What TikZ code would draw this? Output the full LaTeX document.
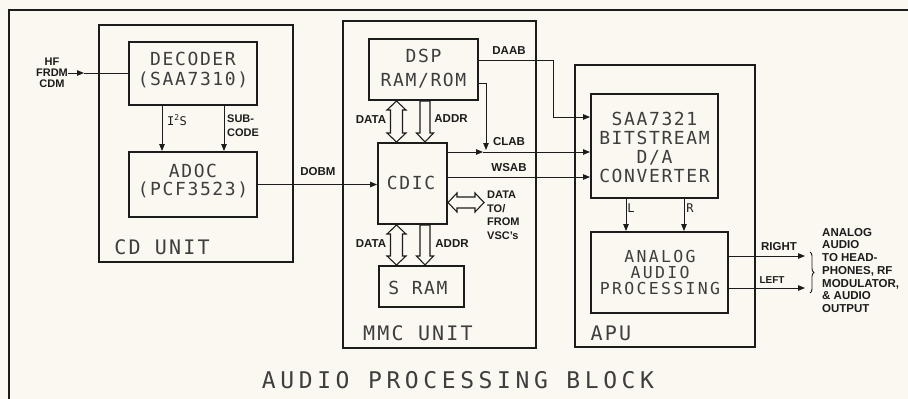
\documentclass[tikz,border=0pt]{standalone}
\usepackage{fontspec}
\setmainfont{Liberation Sans}
\newfontfamily\boxfont[LetterSpace=9]{DejaVu Sans Mono}
\newfontfamily\anafont[LetterSpace=14]{DejaVu Sans Mono}
\newfontfamily\unitfont[LetterSpace=11]{DejaVu Sans Mono}
\newfontfamily\capfont[LetterSpace=20]{DejaVu Sans Mono}
\usetikzlibrary{arrows.meta,calc,decorations.pathreplacing}
\definecolor{bg}{RGB}{250,248,240}
\definecolor{ink}{RGB}{28,28,28}
\definecolor{txt}{RGB}{62,62,62}
\begin{document}
\begin{tikzpicture}[x=1pt,y=-1pt,
  frame/.style={draw=ink, line width=2.2pt},
  unitbox/.style={draw=ink, line width=2.6pt, inner sep=0},
  blk/.style={draw=ink, line width=1.9pt, inner sep=0},
  bt/.style={align=center, inner sep=0, text=txt, font={\boxfont\fontsize{18}{#1}\selectfont}},
  ut/.style={inner sep=0, text=txt, font={\unitfont\fontsize{20}{20}\selectfont}},
  lbl/.style={inner sep=0, text=ink, font={\bfseries\fontsize{11.5}{12}\selectfont}},
  thin/.style={inner sep=0, text=ink, font={\boxfont\fontsize{12}{12}\selectfont}},
  sig/.style={draw=ink, line width=0.9pt},
  arr/.style={-{Triangle[length=7pt,width=5.5pt]}},
  hollow/.style={draw=ink, line width=1.1pt, fill=bg, line join=miter}
]
\fill[bg] (0,0) rectangle (908,399);
\useasboundingbox (0,0) rectangle (908,399);
\begin{scope}
  \clip (0,0) rectangle (908,399);
  \draw[frame] (915,10) -- (9,10) -- (9,410);
\end{scope}

% units
\node[unitbox, minimum width=194, minimum height=237] (cdu) at (196,143.5) {};
\node[unitbox, minimum width=193, minimum height=327] (mmc) at (439.5,184.5) {};
\node[unitbox, minimum width=180, minimum height=282] (apu) at (665,206) {};

% blocks
\node[blk, minimum width=128, minimum height=63] (dec) at (193,73.5) {};
\node[blk, minimum width=128, minimum height=65] (adoc) at (193,184.5) {};
\node[blk, minimum width=109, minimum height=61] (dsp) at (423.5,69.5) {};
\node[blk, minimum width=69, minimum height=81] (cdic) at (412.5,183.5) {};
\node[blk, minimum width=85, minimum height=41] (sram) at (421.5,286.5) {};
\node[blk, minimum width=127, minimum height=104] (saa) at (654.5,146) {};
\node[blk, minimum width=137, minimum height=81] (ana) at (659.5,272.5) {};

% block texts
\node[bt=20] (dect) at (193,70) {DECODER\\(SAA7310)};
\node[bt=18] (adoct) at (193,181) {ADOC\\(PCF3523)};
\node[bt=24] (dspt) at (423.5,69) {DSP\\RAM/ROM};
\node[bt=18] (cdict) at (411,183) {CDIC};
\node[bt=18] (sramt) at (418,288) {S RAM};
\node[bt=19] (saat) at (654.5,147.5) {SAA7321\\BITSTREAM\\D/A\\CONVERTER};
\node[align=center, inner sep=0, text=txt, font={\anafont\fontsize{16.5}{16}\selectfont}] (anat) at (660,272.5) {ANALOG\\AUDIO\\PROCESSING};

% unit labels
\node[ut] (cdul) at (162,247) {CD UNIT};
\node[ut] (mmcl) at (418,333) {MMC UNIT};
\node[ut] (apul) at (611,333) {APU};
\node[inner sep=0, text=txt, font={\capfont\fontsize{23}{23}\selectfont}] (cap) at (458,380) {AUDIO PROCESSING BLOCK};

% HF input
\node[lbl, align=center, font={\bfseries\fontsize{11}{11}\selectfont}] (hf) at (52,73) {HF\\FRDM\\CDM};
\coordinate (hfa) at (84,73);
\draw[sig, arr] (hf.east) -- (hfa);
\draw[sig] (hfa) -- (dec.west |- hfa);

% CD unit internal
\draw[sig, arr] ($(dec.south)+(-31,0)$) -- ($(adoc.north)+(-31,0)$);
\draw[sig, arr] ($(dec.south)+(31,0)$) -- ($(adoc.north)+(31,0)$);
\node[thin, anchor=west] (i2s) at (167,120) {I\textsuperscript{2}S};
\node[lbl, align=left, anchor=west, font={\bfseries\fontsize{11}{14}\selectfont}] (subc) at (227,126) {SUB-\\CODE};

% DOBM
\draw[sig, arr] (adoc.east) -- (adoc.east -| cdic.west);
\node[lbl] (dobm) at (318,172) {DOBM};

% hollow bus arrows (DSP <-> CDIC)
\draw[hollow] (390.5,110) -- (387,110) -- (396.5,101) -- (406,110) -- (402.5,110) -- (402.5,133) -- (406,133) -- (396.5,142) -- (387,133) -- (390.5,133) -- cycle;
\draw[hollow] (420,101) -- (430,101) -- (430,133) -- (433.5,133) -- (425,142) -- (416.5,133) -- (420,133) -- cycle;
\node[lbl] (data1) at (371,120) {DATA};
\node[lbl] (addr1) at (451,119) {ADDR};
% hollow bus arrows (CDIC <-> SRAM)
\draw[hollow] (390.5,234) -- (387,234) -- (396.5,225) -- (406,234) -- (402.5,234) -- (402.5,256) -- (406,256) -- (396.5,265) -- (387,256) -- (390.5,256) -- cycle;
\draw[hollow] (420,225) -- (430,225) -- (430,256) -- (433.5,256) -- (425,265) -- (416.5,256) -- (420,256) -- cycle;
\node[lbl] (data2) at (371,244) {DATA};
\node[lbl] (addr2) at (452,244) {ADDR};
% hollow horizontal DATA to/from VSC
\draw[hollow] (457,197) -- (457,193) -- (448,202.5) -- (457,212) -- (457,208) -- (475,208) -- (475,212) -- (484,202.5) -- (475,193) -- (475,197) -- cycle;
\node[lbl, align=left, anchor=north west, font={\bfseries\fontsize{11}{13.5}\selectfont}] (vsc) at (487,191) {DATA\\TO/\\FROM\\VSC's};

% DAAB
\coordinate (daabc) at (553,117);
\draw[sig, arr] ($(dsp.east)+(0,-9.5)$) -| (daabc) -- (daabc -| saa.west);
\node[lbl] (daab) at (509,51) {DAAB};
% CLAB
\coordinate (clabj) at (486,152);
\coordinate (clabh) at (483,152);
\draw[sig, arr] (cdic.east |- clabj) -- (clabh);
\draw[sig, arr] (clabh) -- (clabj -| saa.west);
\draw[sig, arr] ($(dsp.east)+(0,14)$) -| ($(clabj)+(0,-2)$);
\node[lbl] (clab) at (509,142) {CLAB};
% WSAB
\coordinate (wsabc) at (500,177);
\draw[sig, arr] (cdic.east |- wsabc) -- (wsabc -| saa.west);
\node[lbl] (wsab) at (509,168) {WSAB};

% L / R
\draw[sig, arr] ($(saa.south)+(-28.5,0)$) -- (ana.north -| 626,0);
\draw[sig, arr] ($(saa.south)+(29.5,0)$) -- (ana.north -| 684,0);
\node[thin] (ll) at (631,208) {L};
\node[thin] (rr) at (690,208) {R};

% outputs
\coordinate (outr) at (805,256);
\coordinate (outl) at (805,288);
\draw[sig, arr] (ana.east |- outr) -- (outr);
\draw[sig, arr] (ana.east |- outl) -- (outl);
\node[lbl] (right) at (779,247) {RIGHT};
\node[lbl, font={\bfseries\fontsize{10}{10}\selectfont}] (left) at (772,280) {LEFT};
\draw[sig, decorate, decoration={brace, amplitude=4pt}] (810,252) -- (810,293);
\node[lbl, align=left, anchor=north west, font={\bfseries\fontsize{11.5}{12.7}\selectfont}] (outt) at (822,228) {ANALOG\\AUDIO\\TO HEAD-\\PHONES, RF\\MODULATOR,\\\& AUDIO\\OUTPUT};
\end{tikzpicture}
\end{document}
